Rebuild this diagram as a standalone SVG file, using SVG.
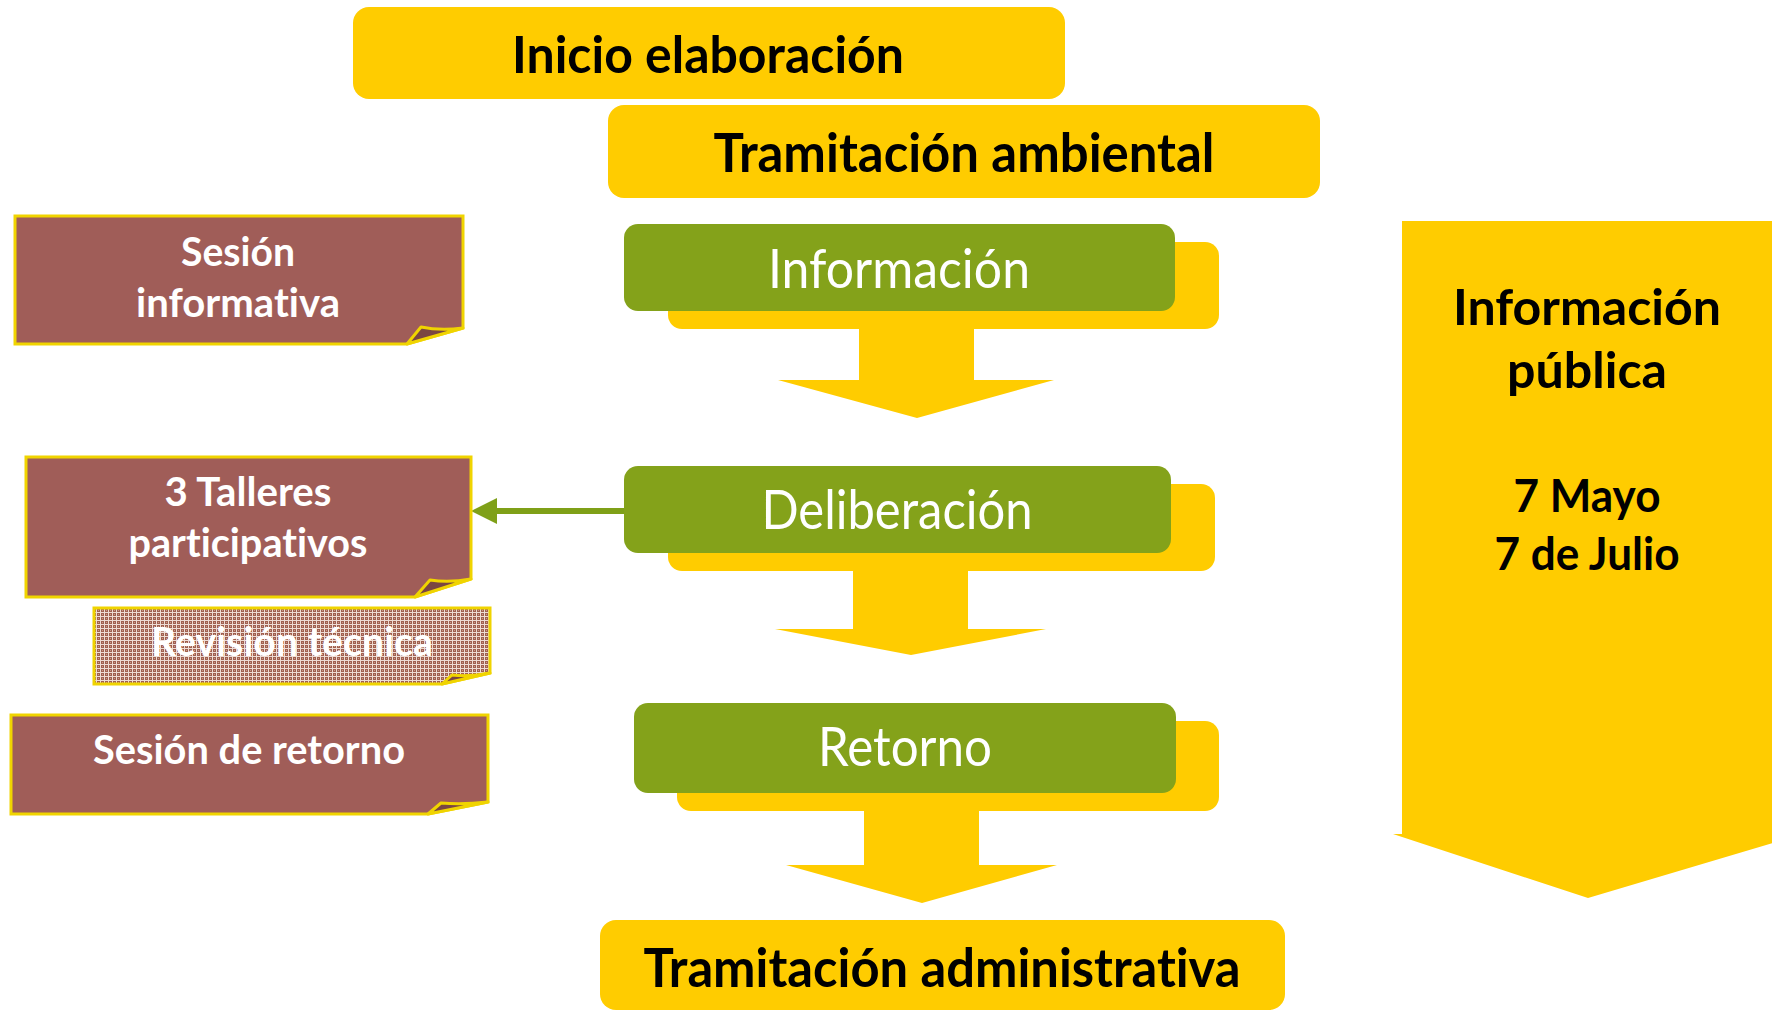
<svg xmlns="http://www.w3.org/2000/svg" width="1772" height="1010" viewBox="0 0 1772 1010">
<defs>
<style>
.yb{fill:#FFCC00}
.gb{fill:#84A21A}
.note{fill:#A05D58;stroke:#F0D400;stroke-width:3;stroke-linejoin:miter}
.flap{fill:#7A4642;stroke:#F0D400;stroke-width:3;stroke-linejoin:round}
text{font-variant-ligatures:none}
.tb{font-family:"Lato","Open Sans",sans-serif;font-weight:700;fill:#000;text-anchor:middle}
.tg{font-family:"Lato","Open Sans",sans-serif;font-weight:400;fill:#FFFFFF;text-anchor:middle}
.tw{font-family:"Lato","Open Sans",sans-serif;font-weight:700;fill:#FFFFFF;text-anchor:middle}
</style>
<pattern id="grid" width="4" height="4" patternUnits="userSpaceOnUse">
<rect width="4" height="4" fill="#A0604F"/>
<rect x="0" y="0" width="4" height="1" fill="#EEDCD4"/>
<rect x="0" y="0" width="1" height="4" fill="#EEDCD4"/>
<rect x="2" y="2" width="1" height="1" fill="#C89C8E"/>
</pattern>
</defs>

<g id="connectors">
<polygon class="yb" points="859,320 974,320 974,380 1054,380 917,418 778,380 859,380"/>
<polygon class="yb" points="853,560 968,560 968,629 1046,629 911,655 775,629 853,629"/>
<polygon class="yb" points="864,800 979,800 979,865 1057,865 922,903 786,865 864,865"/>
<line x1="624" y1="511" x2="492" y2="511" stroke="#7FA018" stroke-width="6"/>
<polygon points="471,511 497,498 497,524" fill="#7FA018"/>
</g>

<g id="info-publica">
<path class="yb" d="M1402,221 H1790 V838 L1588,898 L1393,834 H1402 Z"/>
<text class="tb" x="1587" y="325" font-size="50" textLength="268" lengthAdjust="spacingAndGlyphs">Información</text>
<text class="tb" x="1587" y="388" font-size="50" textLength="160" lengthAdjust="spacingAndGlyphs">pública</text>
<text class="tb" x="1587" y="512" font-size="46" textLength="147" lengthAdjust="spacingAndGlyphs">7 Mayo</text>
<text class="tb" x="1587" y="570" font-size="46" textLength="185" lengthAdjust="spacingAndGlyphs">7 de Julio</text>
</g>

<g id="inicio">
<rect class="yb" x="353" y="7" width="712" height="92" rx="16"/>
<text class="tb" x="708" y="73" font-size="52" textLength="392" lengthAdjust="spacingAndGlyphs">Inicio elaboración</text>
</g>

<g id="tram-ambiental">
<rect class="yb" x="608" y="105" width="712" height="93" rx="16"/>
<text class="tb" x="964" y="172" font-size="54" textLength="501" lengthAdjust="spacingAndGlyphs">Tramitación ambiental</text>
</g>

<g id="informacion">
<rect class="yb" x="668" y="242" width="551" height="87" rx="14"/>
<rect class="gb" x="624" y="224" width="551" height="87" rx="14"/>
<text class="tg" x="899" y="288" font-size="55" textLength="262" lengthAdjust="spacingAndGlyphs">Información</text>
</g>

<g id="deliberacion">
<rect class="yb" x="668" y="484" width="547" height="87" rx="14"/>
<rect class="gb" x="624" y="466" width="547" height="87" rx="14"/>
<text class="tg" x="897" y="529" font-size="55" textLength="271" lengthAdjust="spacingAndGlyphs">Deliberación</text>
</g>

<g id="retorno">
<rect class="yb" x="677" y="721" width="542" height="90" rx="14"/>
<rect class="gb" x="634" y="703" width="542" height="90" rx="14"/>
<text class="tg" x="905" y="766" font-size="55" textLength="174" lengthAdjust="spacingAndGlyphs">Retorno</text>
</g>

<g id="tram-administrativa">
<rect class="yb" x="600" y="920" width="685" height="90" rx="16"/>
<text class="tb" x="942" y="987" font-size="53" textLength="597" lengthAdjust="spacingAndGlyphs">Tramitación administrativa</text>
</g>

<g id="sesion-informativa">
<path class="note" d="M15,216 H463 V328 L407,344 H15 Z"/>
<path class="flap" d="M407,344 L421,327 Q440,331 463,328 Z"/>
<text class="tw" x="238" y="266" font-size="40" textLength="114" lengthAdjust="spacingAndGlyphs">Sesión</text>
<text class="tw" x="238" y="317" font-size="40" textLength="204" lengthAdjust="spacingAndGlyphs">informativa</text>
</g>

<g id="talleres">
<path class="note" d="M26,457 H471 V579 L415,597 H26 Z"/>
<path class="flap" d="M415,597 L430,580 Q449,583 471,579 Z"/>
<text class="tw" x="248" y="506" font-size="40" textLength="167" lengthAdjust="spacingAndGlyphs">3 Talleres</text>
<text class="tw" x="248" y="557" font-size="40" textLength="239" lengthAdjust="spacingAndGlyphs">participativos</text>
</g>

<g id="revision">
<path class="note" d="M94,608 H490 V673 L442,684 H94 Z" style="fill:url(#grid)"/>
<path class="flap" d="M442,684 L452,675 Q470,677 490,673 Z"/>
<text class="tw" x="292" y="656" font-size="40" textLength="282" lengthAdjust="spacingAndGlyphs">Revisión técnica</text>
</g>

<g id="sesion-retorno">
<path class="note" d="M11,715 H488 V802 L428,814 H11 Z"/>
<path class="flap" d="M428,814 L441,803 Q462,805 488,802 Z"/>
<text class="tw" x="249" y="764" font-size="40" textLength="312" lengthAdjust="spacingAndGlyphs">Sesión de retorno</text>
</g>
</svg>
